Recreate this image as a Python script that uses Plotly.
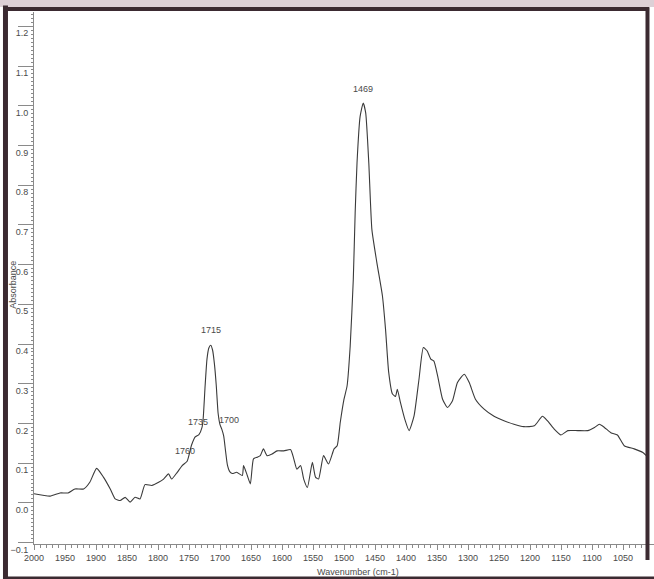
import numpy as np
import plotly.graph_objects as go

wavenumber = [2000, 1974, 1958, 1945, 1934, 1920, 1910, 1899, 1888, 1877, 1869, 1861, 1853, 1845,
              1837, 1829, 1821, 1810, 1799, 1791, 1783, 1778, 1769, 1761, 1753, 1746, 1740, 1734,
              1729, 1727, 1724, 1721, 1718, 1715, 1712, 1709, 1706, 1703, 1700, 1697, 1694, 1691,
              1688, 1684, 1680, 1673, 1664, 1662, 1656, 1651, 1646, 1640, 1635, 1630, 1624, 1616,
              1608, 1597, 1586, 1581, 1576, 1570, 1565, 1559, 1551, 1546, 1541, 1533, 1525, 1516,
              1511, 1506, 1500, 1495, 1490, 1485, 1482, 1479, 1474, 1469, 1465, 1460, 1455, 1447,
              1438, 1433, 1428, 1422, 1417, 1414, 1409, 1402, 1395, 1387, 1379, 1372, 1366, 1360,
              1355, 1349, 1341, 1333, 1325, 1317, 1306, 1298, 1288, 1274, 1258, 1242, 1226, 1210,
              1193, 1180, 1172, 1161, 1150, 1139, 1123, 1107, 1096, 1088, 1080, 1069, 1059, 1048,
              1032, 1018, 1010]
absorbance = [0.023, 0.017, 0.025, 0.025, 0.035, 0.035, 0.052, 0.087, 0.065, 0.035, 0.010, 0.006, 0.014, 0.002,
              0.014, 0.010, 0.046, 0.044, 0.052, 0.060, 0.073, 0.060, 0.077, 0.094, 0.105, 0.145, 0.166, 0.172,
              0.190, 0.215, 0.295, 0.362, 0.390, 0.397, 0.385, 0.350, 0.295, 0.225, 0.197, 0.185, 0.168, 0.130,
              0.095, 0.078, 0.074, 0.077, 0.069, 0.094, 0.069, 0.048, 0.111, 0.115, 0.119, 0.136, 0.119, 0.123,
              0.131, 0.131, 0.134, 0.111, 0.085, 0.094, 0.060, 0.039, 0.102, 0.065, 0.060, 0.119, 0.098, 0.136,
              0.144, 0.203, 0.261, 0.295, 0.395, 0.563, 0.730, 0.856, 0.973, 1.007, 0.982, 0.856, 0.688, 0.605,
              0.521, 0.437, 0.330, 0.275, 0.268, 0.286, 0.253, 0.211, 0.182, 0.219, 0.312, 0.391, 0.383, 0.362,
              0.357, 0.320, 0.261, 0.240, 0.257, 0.303, 0.324, 0.303, 0.261, 0.236, 0.218, 0.207, 0.198, 0.192,
              0.194, 0.218, 0.207, 0.186, 0.171, 0.182, 0.182, 0.182, 0.190, 0.198, 0.190, 0.176, 0.171, 0.144,
              0.136, 0.127, 0.115]

peak_labels = ["1469", "1715", "1735", "1700", "1760"]
peak_wavenumbers = [1469, 1715, 1735, 1700, 1760]

x_title = "Wavenumber (cm-1)"
y_title = "Absorbance"

TXT = "#4a4a4a"
AX = "#8a8a8a"
FONT = "Liberation Sans, Arial, sans-serif"
FRAME = "#3b2a31"

fig = go.Figure()
fig.add_trace(go.Scatter(
    x=wavenumber, y=absorbance, mode="lines",
    line=dict(color="#3a3a3a", width=1.1, shape="spline", smoothing=0.5),
    hoverinfo="skip", showlegend=False))

asc_x = np.array(wavenumber[::-1], dtype=float)
asc_y = np.array(absorbance[::-1], dtype=float)
label_style = {
    "1469": dict(xanchor="center", yshift=14, xshift=0),
    "1715": dict(xanchor="center", yshift=15, xshift=0),
    "1735": dict(xanchor="center", yshift=13, xshift=0),
    "1700": dict(xanchor="left", yshift=5, xshift=-3),
    "1760": dict(xanchor="center", yshift=14, xshift=2),
}
annotations = []
for lab, wn in zip(peak_labels, peak_wavenumbers):
    yv = float(np.interp(wn, asc_x, asc_y))
    st = label_style[lab]
    annotations.append(dict(x=wn, y=yv, xref="x", yref="y", text=lab, showarrow=False,
                            xanchor=st["xanchor"], yanchor="middle", yshift=st["yshift"],
                            xshift=st["xshift"], font=dict(size=9, color=TXT, family=FONT)))

# axis titles
annotations.append(dict(x=0.523, y=-0.0526, xref="paper", yref="paper", text=x_title,
                        showarrow=False, xanchor="center", yanchor="middle",
                        font=dict(size=9, color=TXT, family=FONT)))
annotations.append(dict(x=-0.034, y=0.487, xref="paper", yref="paper", text=y_title,
                        showarrow=False, xanchor="center", yanchor="middle", textangle=-90,
                        font=dict(size=9, color=TXT, family=FONT)))

shapes = [
    dict(type="rect", xref="paper", yref="paper", x0=-0.06, x1=1.01, y0=1.0094, y1=1.03,
         fillcolor="#ddd0d6", line=dict(width=0), layer="above"),
    dict(type="line", xref="paper", yref="paper", x0=-0.046, x1=-0.046, y0=-0.08, y1=1.012,
         line=dict(color=FRAME, width=5), layer="above"),
    dict(type="line", xref="paper", yref="paper", x0=-0.05, x1=0.992, y0=1.0056, y1=1.0056,
         line=dict(color=FRAME, width=4), layer="above"),
    dict(type="line", xref="paper", yref="paper", x0=0.9895, x1=0.9895, y0=-0.03, y1=1.009,
         line=dict(color=FRAME, width=4), layer="above"),
    dict(type="line", xref="paper", yref="paper", x0=-0.05, x1=1.01, y0=-0.064, y1=-0.064,
         line=dict(color=FRAME, width=3), layer="above"),
]

fig.update_layout(
    width=654, height=579,
    margin=dict(l=34, r=0, t=12, b=35),
    paper_bgcolor="white", plot_bgcolor="white",
    font=dict(family=FONT, size=9, color=TXT),
    annotations=annotations, shapes=shapes,
    xaxis=dict(range=[2000, 1000], tickmode="linear", tick0=1000, dtick=50,
               ticks="outside", ticklen=5, tickcolor=AX, showline=True, linecolor=AX,
               linewidth=1, showgrid=False, zeroline=False,
               tickfont=dict(size=9, color=TXT, family=FONT),
               minor=dict(tickmode="linear", tick0=1000, dtick=10, ticks="outside",
                          ticklen=3, tickcolor=AX)),
    yaxis=dict(range=[-0.1035, 1.236], tickmode="linear", tick0=0, dtick=0.1,
               tickformat=".1f", ticks="outside", ticklen=15, tickcolor=AX,
               ticklabelstandoff=-12, ticklabelshift=7,
               showline=True, linecolor=AX, linewidth=1, showgrid=False, zeroline=False,
               tickfont=dict(size=9, color=TXT, family=FONT),
               minor=dict(tickmode="linear", tick0=0, dtick=0.01, ticks="outside",
                          ticklen=2, tickcolor=AX)),
)

fig.write_html("out.html", config={"displayModeBar": False},
               post_script="document.body.style.margin='0';document.body.style.overflow='hidden';")
